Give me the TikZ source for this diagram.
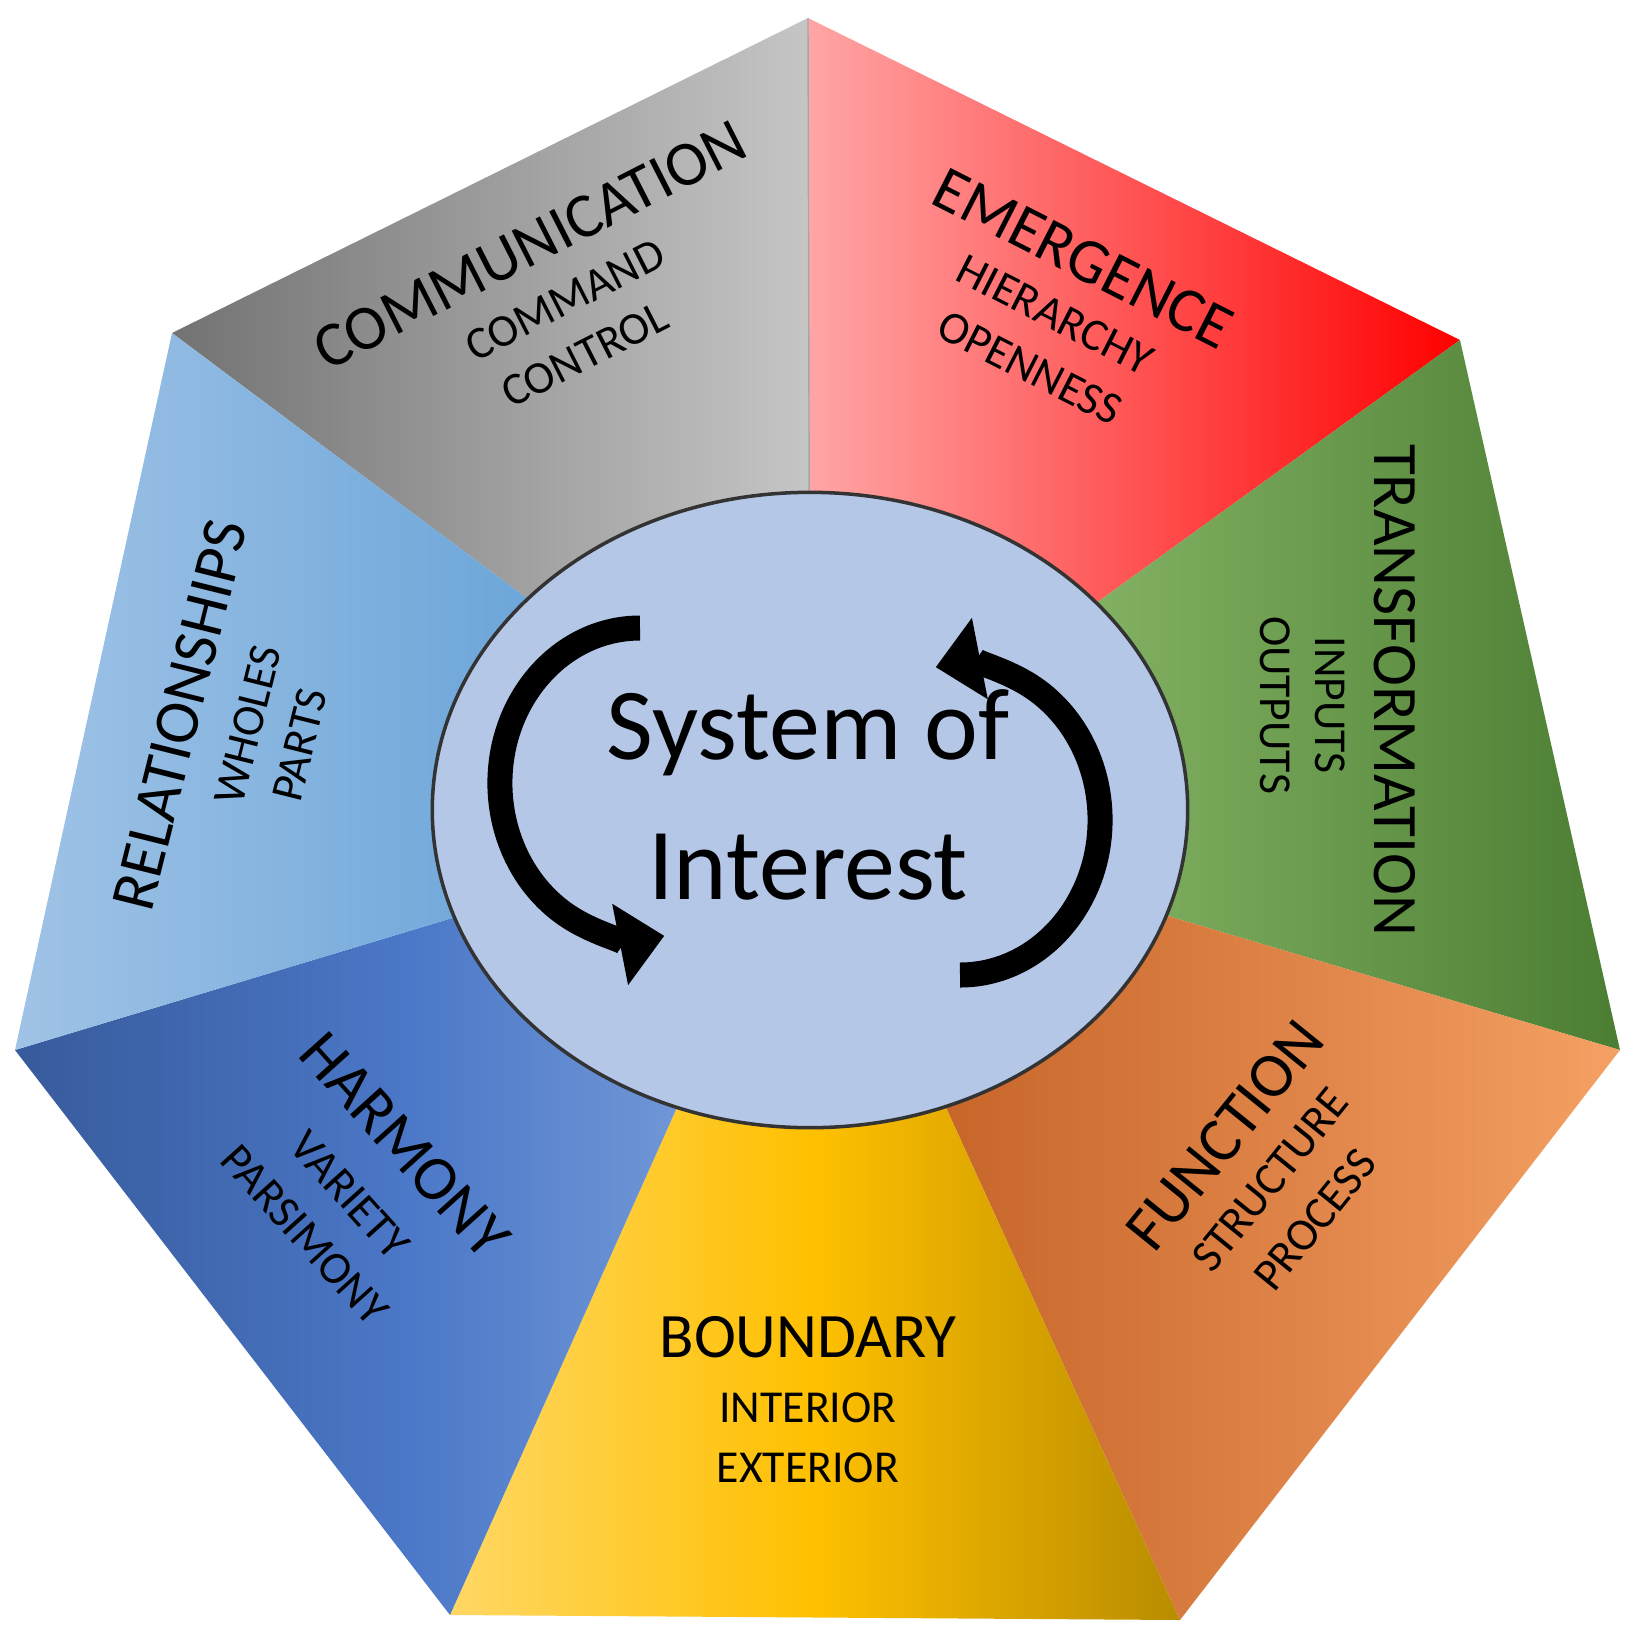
\documentclass[tikz,border=0pt]{standalone}
\usepackage{fontspec}
\setmainfont{Carlito}
\usetikzlibrary{arrows.meta,shapes.geometric}
\begin{document}
\begin{tikzpicture}[x=0.01cm,y=-0.01cm,
  head/.style={font=\fontsize{18}{22}\selectfont,inner sep=0},
  sub/.style={font=\fontsize{13}{16}\selectfont,inner sep=0},
  loop/.style={line width=0.25cm,-{Triangle[length=0.45cm,width=0.8cm]}}]
\useasboundingbox (0,0) rectangle (1630,1632);
\fill[white] (0,0) rectangle (1630,1632);
\coordinate (T) at (808,18);
\coordinate (UR) at (1460,340);
\coordinate (R) at (1620,1050);
\coordinate (LR) at (1180,1620);
\coordinate (LL) at (450,1615);
\coordinate (L) at (15,1050);
\coordinate (UL) at (172,333);
\coordinate (C) at (810,810);
\shade[shading angle=120,left color=gray!90!black,right color=gray!45] (UL)--(T)--(C)--cycle;
\shade[shading angle=90,left color=red!35!white,right color=red] (T)--(UR)--(C)--cycle;
\shade[shading angle=100,left color={rgb,255:red,160;green,205;blue,125},right color={rgb,255:red,75;green,125;blue,50}] (UR)--(R)--(C)--cycle;
\shade[shading angle=110,left color={rgb,255:red,190;green,90;blue,30},right color={rgb,255:red,245;green,160;blue,100}] (R)--(LR)--(C)--cycle;
\shade[shading angle=100,left color={rgb,255:red,255;green,215;blue,100},right color={rgb,255:red,185;green,140;blue,0},middle color={rgb,255:red,255;green,192;blue,0}] (LR)--(LL)--(C)--cycle;
\shade[shading angle=135,left color={rgb,255:red,55;green,90;blue,155},right color={rgb,255:red,130;green,165;blue,220},middle color={rgb,255:red,75;green,120;blue,200}] (LL)--(L)--(C)--cycle;
\shade[shading angle=90,left color={rgb,255:red,160;green,195;blue,230},right color={rgb,255:red,80;green,150;blue,210}] (L)--(UL)--(C)--cycle;
\draw[gray!70,line width=0.4pt] (T)--(C);
\node[ellipse,draw=black!80,line width=1pt,fill={rgb,255:red,180;green,199;blue,231},minimum width=7.55cm,minimum height=6.35cm,inner sep=0] (sys) at (C) {};
\node[font=\fontsize{29}{40}\selectfont,align=center] (soi) at (808,795) {System of\\Interest};
\draw[loop] (640,628) arc[start angle=90,end angle=280,x radius=1.4cm,y radius=1.55cm];
\draw[loop] (960,975) arc[start angle=270,end angle=460,x radius=1.4cm,y radius=1.55cm];
\node[head,rotate=27] (h1) at (530,245) {COMMUNICATION};
\node[sub,rotate=27] (s1a) at (565,300) {COMMAND};
\node[sub,rotate=27] (s1b) at (585,355) {CONTROL};
\node[head,rotate=-27] (h2) at (1083,258) {EMERGENCE};
\node[sub,rotate=-27] (s2a) at (1055,315) {HIERARCHY};
\node[sub,rotate=-27] (s2b) at (1030,368) {OPENNESS};
\node[head,rotate=-90] (h3) at (1395,690) {TRANSFORMATION};
\node[sub,rotate=-90] (s3a) at (1330,705) {INPUTS};
\node[sub,rotate=-90] (s3b) at (1275,705) {OUTPUTS};
\node[head,rotate=51] (h4) at (1225,1135) {FUNCTION};
\node[sub,rotate=51] (s4a) at (1270,1180) {STRUCTURE};
\node[sub,rotate=51] (s4b) at (1315,1220) {PROCESS};
\node[head] (h5) at (808,1337) {BOUNDARY};
\node[sub] (s5a) at (808,1408) {INTERIOR};
\node[sub] (s5b) at (808,1468) {EXTERIOR};
\node[head,rotate=-48] (h6) at (405,1145) {HARMONY};
\node[sub,rotate=-48] (s6a) at (350,1195) {VARIETY};
\node[sub,rotate=-48] (s6b) at (305,1235) {PARSIMONY};
\node[head,rotate=76] (h7) at (180,715) {RELATIONSHIPS};
\node[sub,rotate=76] (s7a) at (248,725) {WHOLES};
\node[sub,rotate=76] (s7b) at (300,745) {PARTS};
\end{tikzpicture}
\end{document}
